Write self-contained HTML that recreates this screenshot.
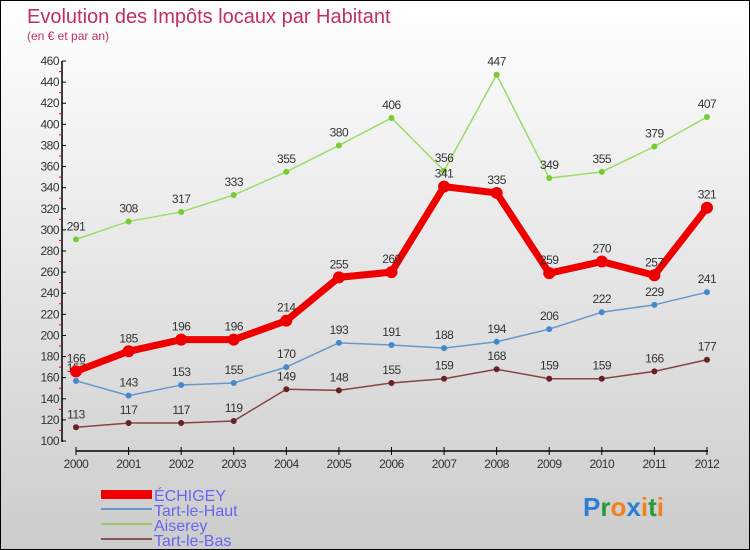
<!DOCTYPE html>
<html><head><meta charset="utf-8"><style>
body{margin:0}
#c{width:748px;height:548px;border:1px solid #000;background:linear-gradient(#fff,#ccc);position:relative;font-family:"Liberation Sans","DejaVu Sans",sans-serif;overflow:hidden}
svg{position:absolute;left:0;top:0}
</style></head><body>
<div id="c">
<svg id="s" width="748" height="548">
<text x="26" y="22" font-size="20" fill="#c0305a">Evolution des Impôts locaux par Habitant</text>
<text x="26" y="39" font-size="12" fill="#c0305a">(en € et par an)</text>
<g id="ax"></g><g id="lines"></g>
<g font-size="16" fill="#6666ee">
<rect x="100" y="489" width="51" height="9" fill="#e00"/>
<text x="153" y="500">ÉCHIGEY</text>
<line x1="100" y1="508" x2="151" y2="508" stroke="#6699cc" stroke-width="2"/>
<text x="153" y="515">Tart-le-Haut</text>
<line x1="100" y1="523" x2="151" y2="523" stroke="#99cc66" stroke-width="2"/>
<text x="153" y="530">Aiserey</text>
<line x1="100" y1="538" x2="151" y2="538" stroke="#885555" stroke-width="2"/>
<text x="153" y="545">Tart-le-Bas</text>
</g>
<text x="582" y="515" font-size="26" font-weight="bold"><tspan fill="#2a7fd4">P</tspan><tspan fill="#2a9a3a">r</tspan><tspan fill="#f08020">o</tspan><tspan fill="#2a7fd4">x</tspan><tspan fill="#f08020">i</tspan><tspan fill="#2a9a3a">t</tspan><tspan fill="#f08020">i</tspan></text>
</svg></div>
<script>
const years=[2000,2001,2002,2003,2004,2005,2006,2007,2008,2009,2010,2011,2012];
const yTicks=[100,120,140,160,180,200,220,240,260,280,300,320,340,360,380,400,420,440,460];
const echigey=[166,185,196,196,214,255,260,341,335,259,270,257,321];
const tartHaut=[157,143,153,155,170,193,191,188,194,206,222,229,241];
const aiserey=[291,308,317,333,355,380,406,356,447,349,355,379,407];
const tartBas=[113,117,117,119,149,148,155,159,168,159,159,166,177];
const NS="http://www.w3.org/2000/svg";
const X=i=>75+i*52.58, Y=v=>440-(v-100)*380/360;
function mk(t,a,p){const e=document.createElementNS(NS,t);for(const k in a)e.setAttribute(k,a[k]);p.appendChild(e);return e;}
const ax=document.getElementById('ax');
let e=mk('line',{x1:61,y1:60,x2:61,y2:441,stroke:'#000','stroke-width':1.5},ax);

e=mk('line',{x1:75,y1:450,x2:707,y2:450,stroke:'#000','stroke-width':1.5},ax);

yTicks.forEach(v=>{mk('line',{x1:61,y1:Y(v),x2:65,y2:Y(v),stroke:'#000'},ax);
 if(v<460)mk('line',{x1:58,y1:Y(v+10),x2:61,y2:Y(v+10),stroke:'#e00'},ax);
 const t=mk('text',{x:58,y:Y(v)+4,'font-size':12,'text-anchor':'end',fill:'#333','letter-spacing':'-0.5'},ax);t.textContent=v;
 });
years.forEach((y,i)=>{mk('line',{x1:X(i),y1:446,x2:X(i),y2:454,stroke:'#000'},ax);
 const t=mk('text',{x:X(i),y:467,'font-size':12,'text-anchor':'middle',fill:'#333','letter-spacing':'-0.5'},ax);t.textContent=y;
 });
const L=document.getElementById('lines');
function series(d,col,w,r,name,dot){
 const g=mk('g',{},L);
 mk('polyline',{points:d.map((v,i)=>X(i)+','+Y(v)).join(' '),fill:'none',stroke:col,'stroke-width':w,'stroke-linejoin':'round'},g);
 d.forEach((v,i)=>{const c=mk('circle',{cx:X(i),cy:Y(v),r:r,fill:dot},g);
  
  const t=mk('text',{x:X(i),y:Y(v)-9,'font-size':12,'text-anchor':'middle',fill:'#333','letter-spacing':'-0.5'},g);t.textContent=v;
  });
}
series(aiserey,'#99dd66',1.5,3,'aiserey','#77cc33');
series(tartHaut,'#6699cc',1.5,3,'tart-le-haut','#4488cc');
series(tartBas,'#884444',1.5,3,'tart-le-bas','#662222');
series(echigey,'#ee0000',7,6,'echigey','#ee0000');
</script>
</body></html>
